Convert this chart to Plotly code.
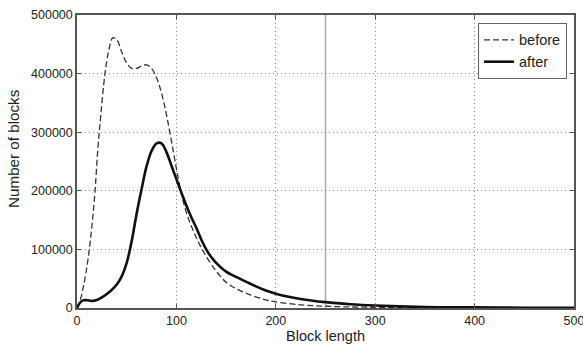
import plotly.graph_objects as go

# Block length (x) and number of blocks (y)
before_x = [0, 3, 6, 9, 12, 15, 18, 21, 24, 28, 32, 36, 40, 45, 50, 55, 60, 65, 70, 75,
            80, 85, 90, 95, 100, 105, 110, 115, 120, 125, 130, 140, 150, 160, 175, 190,
            200, 225, 250, 275, 300, 350, 400, 450, 500]
before_y = [0, 12000, 33000, 60000, 95000, 140000, 196000, 272000, 330000, 398000,
            440000, 461000, 458000, 437000, 418000, 409000, 409000, 413000, 415000,
            409000, 393000, 367000, 330000, 285000, 238000, 195000, 163000, 140000,
            120000, 103000, 88000, 63000, 44000, 33000, 22000, 14000, 10500, 5500,
            3000, 1800, 1200, 600, 300, 150, 50]

after_x = [0, 3, 6, 10, 15, 20, 25, 30, 35, 40, 45, 50, 55, 60, 65, 70, 75, 80, 85, 90,
           95, 100, 105, 110, 115, 120, 125, 130, 135, 140, 150, 160, 170, 180, 190,
           200, 225, 250, 275, 300, 350, 400, 450, 500]
after_y = [0, 9000, 13000, 13300, 12000, 13500, 18000, 24000, 31000, 40000, 54000,
           77000, 114000, 161000, 203000, 242000, 268000, 281000, 281000, 266000,
           243000, 220000, 197000, 175000, 155000, 137000, 117000, 100000, 87000,
           77000, 62000, 53000, 45000, 37000, 30000, 24500, 15500, 10000, 6500, 4300,
           1800, 1000, 500, 200]

x_ticks = [0, 100, 200, 300, 400, 500]
y_ticks = [0, 100000, 200000, 300000, 400000, 500000]
marker_x = 250

FONT = "Liberation Sans, Arial, sans-serif"
TXT = "#222222"

fig = go.Figure()
fig.add_trace(go.Scatter(x=before_x, y=before_y, mode="lines", name="before",
                         line=dict(color="#333333", width=1.3, dash="6px,3px",
                                   shape="spline", smoothing=1.0)))
fig.add_trace(go.Scatter(x=after_x, y=after_y, mode="lines", name="after",
                         line=dict(color="#111111", width=2.6,
                                   shape="spline", smoothing=1.0)))

fig.add_shape(type="line", xref="x", yref="paper", x0=marker_x, x1=marker_x,
              y0=0, y1=1, line=dict(color="#aaaaaa", width=1.5), layer="below")

axis_common = dict(
    showline=True, linecolor="#555555", linewidth=1.5, mirror="ticks",
    ticks="inside", ticklen=4, tickcolor="#555555",
    showgrid=True, gridcolor="#888888", griddash="1px,3px", gridwidth=1,
    zeroline=False, automargin=False, ticklabeloverflow="allow",
    tickfont=dict(family=FONT, size=12.5, color=TXT),
)

fig.update_xaxes(range=[0, 500], tickvals=x_ticks, **axis_common,
                 title=dict(text="Block length", font=dict(family=FONT, size=14.5, color=TXT),
                            standoff=0))
fig.update_yaxes(range=[0, 500000], tickvals=y_ticks, tickformat="d", **axis_common)

fig.add_annotation(text="Number of blocks", xref="paper", yref="paper",
                   x=-0.1267, y=0.543, xanchor="center", yanchor="middle",
                   textangle=-90, showarrow=False,
                   font=dict(family=FONT, size=15.2, color=TXT))

fig.update_layout(
    width=583, height=349,
    margin=dict(l=77, r=9, t=15, b=41),
    paper_bgcolor="white", plot_bgcolor="white",
    showlegend=True,
    legend=dict(x=0.986, y=0.973, xanchor="right", yanchor="top",
                bordercolor="#666666", borderwidth=1, bgcolor="white",
                font=dict(family=FONT, size=14.5, color=TXT),
                tracegroupgap=0, itemwidth=30),
    font=dict(family=FONT),
)

fig.write_html("out.html", config={"displayModeBar": False},
               post_script="document.body.style.margin='0';document.body.style.overflow='hidden';")
